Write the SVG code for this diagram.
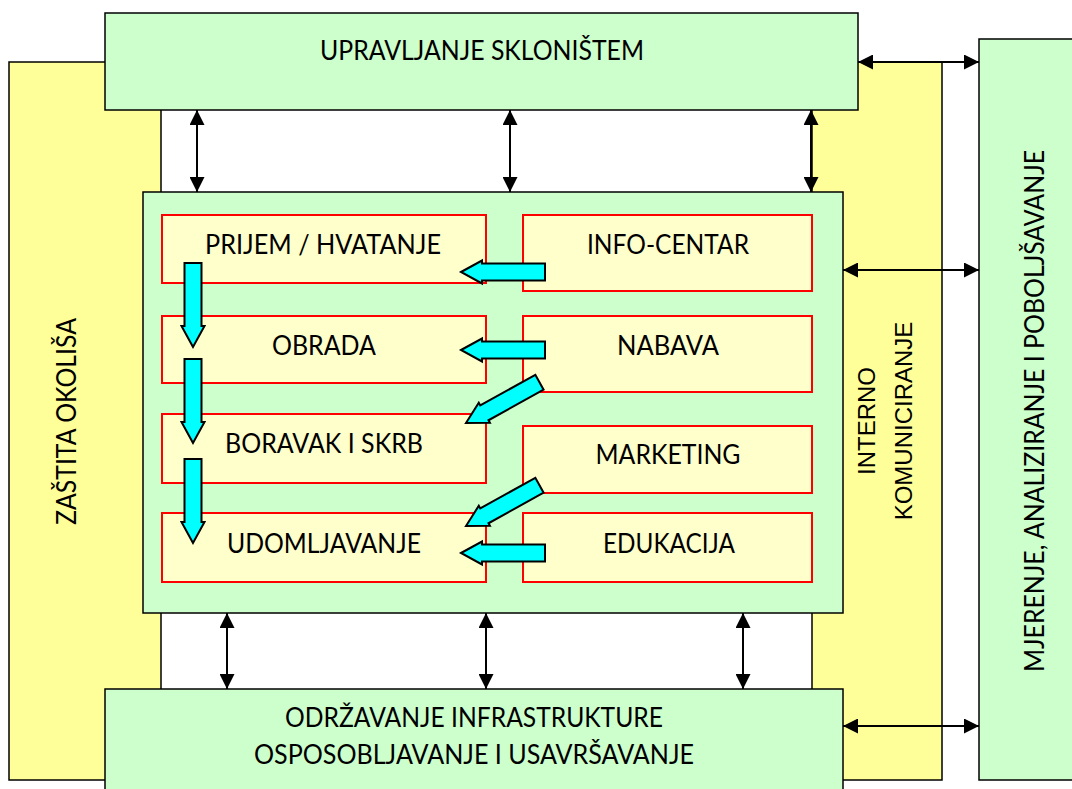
<svg xmlns="http://www.w3.org/2000/svg" width="1072" height="789" viewBox="0 0 1072 789">
<defs>
<style>
.yel{fill:#FFFF99;stroke:#000;stroke-width:1.5}
.grn{fill:#CCFFCC;stroke:#000;stroke-width:1.5}
.inn{fill:#FFFFCC;stroke:#FF0000;stroke-width:2}
.t{font-family:Lato,"Open Sans","Liberation Sans",sans-serif;font-size:26px;fill:#000;text-anchor:middle}
.ta{font-family:"Liberation Sans",Arial,sans-serif;font-size:24px;fill:#000;text-anchor:middle}
.con{stroke:#000;stroke-width:2;fill:none;marker-start:url(#ah);marker-end:url(#ah)}
.cy{fill:#00FFFF;stroke:#000;stroke-width:2;stroke-linejoin:miter}
</style>
<marker id="ah" markerUnits="userSpaceOnUse" markerWidth="15" markerHeight="15" refX="15" refY="7.5" orient="auto-start-reverse">
<path d="M0,0 L15,7.5 L0,15 Z" fill="#000"/>
</marker>
<path id="cyarrow" d="M0,0 L21,-11.5 L21,-8.5 L84,-8.5 L84,8.5 L21,8.5 L21,11.5 Z"/>
</defs>
<rect width="1072" height="789" fill="#fff"/>

<g id="zastita">
<rect class="yel" x="9" y="62" width="152" height="718"/>
<text class="t" transform="translate(76,421.5) rotate(-90)" textLength="207" lengthAdjust="spacingAndGlyphs">ZAŠTITA OKOLIŠA</text>
</g>
<g id="interno">
<rect class="yel" x="812" y="62" width="130" height="718"/>
<text class="ta" transform="translate(875,421) rotate(-90)">INTERNO</text>
<text class="ta" transform="translate(912,421) rotate(-90)">KOMUNICIRANJE</text>
</g>
<g id="mjerenje">
<rect class="grn" x="979" y="39" width="100" height="741"/>
<text class="t" transform="translate(1044,411) rotate(-90)" textLength="522" lengthAdjust="spacingAndGlyphs">MJERENJE, ANALIZIRANJE I POBOLJŠAVANJE</text>
</g>
<g id="upravljanje">
<rect class="grn" x="105" y="13" width="753" height="97"/>
<text class="t" x="482" y="60" textLength="324" lengthAdjust="spacingAndGlyphs">UPRAVLJANJE SKLONIŠTEM</text>
</g>
<g id="centar">
<rect class="grn" x="143" y="192" width="700" height="421"/>
</g>
<g id="odrzavanje">
<rect class="grn" x="105" y="689" width="738" height="110"/>
<text class="t" x="474" y="727" textLength="378" lengthAdjust="spacingAndGlyphs">ODRŽAVANJE INFRASTRUKTURE</text>
<text class="t" x="474" y="764" textLength="440" lengthAdjust="spacingAndGlyphs">OSPOSOBLJAVANJE I USAVRŠAVANJE</text>
</g>

<g id="prijem">
<rect class="inn" x="162" y="215" width="324" height="68"/>
<text class="t" x="323" y="254" textLength="236" lengthAdjust="spacingAndGlyphs">PRIJEM / HVATANJE</text>
</g>
<g id="infocentar">
<rect class="inn" x="523" y="215" width="289" height="76"/>
<text class="t" x="668" y="254" textLength="162" lengthAdjust="spacingAndGlyphs">INFO-CENTAR</text>
</g>
<g id="obrada">
<rect class="inn" x="162" y="316" width="324" height="67"/>
<text class="t" x="324" y="355" textLength="104" lengthAdjust="spacingAndGlyphs">OBRADA</text>
</g>
<g id="nabava">
<rect class="inn" x="523" y="316" width="289" height="76"/>
<text class="t" x="668" y="355" textLength="102" lengthAdjust="spacingAndGlyphs">NABAVA</text>
</g>
<g id="boravak">
<rect class="inn" x="162" y="414" width="324" height="69"/>
<text class="t" x="324" y="453" textLength="198" lengthAdjust="spacingAndGlyphs">BORAVAK I SKRB</text>
</g>
<g id="marketing">
<rect class="inn" x="523" y="426" width="289" height="67"/>
<text class="t" x="668" y="464" textLength="145" lengthAdjust="spacingAndGlyphs">MARKETING</text>
</g>
<g id="udomljavanje">
<rect class="inn" x="162" y="513" width="324" height="69"/>
<text class="t" x="324" y="553" textLength="194" lengthAdjust="spacingAndGlyphs">UDOMLJAVANJE</text>
</g>
<g id="edukacija">
<rect class="inn" x="523" y="513" width="289" height="69"/>
<text class="t" x="669" y="553" textLength="132" lengthAdjust="spacingAndGlyphs">EDUKACIJA</text>
</g>

<g id="connectors">
<line class="con" x1="197" y1="110" x2="197" y2="192"/>
<line class="con" x1="510" y1="110" x2="510" y2="192"/>
<line class="con" x1="811" y1="110" x2="811" y2="192"/>
<line class="con" x1="227" y1="613" x2="227" y2="689"/>
<line class="con" x1="486" y1="613" x2="486" y2="689"/>
<line class="con" x1="743" y1="613" x2="743" y2="689"/>
<line class="con" x1="858" y1="62" x2="979" y2="62"/>
<line class="con" x1="843" y1="270" x2="979" y2="270"/>
<line class="con" x1="843" y1="726" x2="979" y2="726"/>
<use href="#cyarrow" class="cy" transform="translate(193,347) rotate(-90)"/>
<use href="#cyarrow" class="cy" transform="translate(193,443) rotate(-90)"/>
<use href="#cyarrow" class="cy" transform="translate(193,543) rotate(-90)"/>
<use href="#cyarrow" class="cy" transform="translate(461,272)"/>
<use href="#cyarrow" class="cy" transform="translate(461,350)"/>
<use href="#cyarrow" class="cy" transform="translate(461,553)"/>
<use href="#cyarrow" class="cy" transform="translate(466,423) rotate(-29)"/>
<use href="#cyarrow" class="cy" transform="translate(466,526) rotate(-29)"/>
</g>
</svg>
